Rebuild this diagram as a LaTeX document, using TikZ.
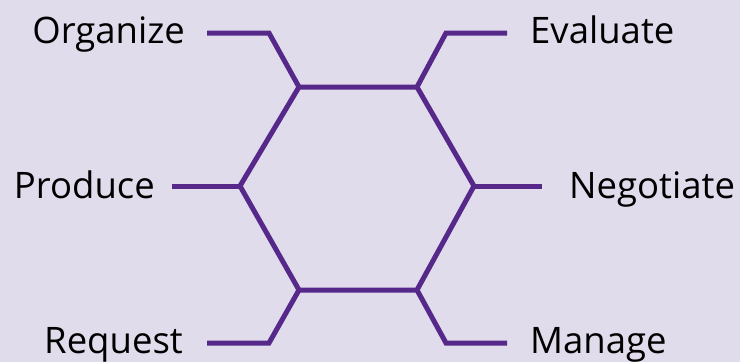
\documentclass[tikz,border=0pt]{standalone}
\usepackage{fontspec}
\setmainfont{Open Sans}
\definecolor{bg}{RGB}{224,220,236}
\definecolor{hexpurple}{RGB}{85,40,138}
\begin{document}
\begin{tikzpicture}[x=1pt,y=-1pt,
  edge/.style={draw=hexpurple,line width=5pt,line join=miter},
  lbl/.style={font=\fontsize{36.5}{40}\selectfont,text=black,inner sep=0pt}]
\fill[bg] (0,0) rectangle (740,362);
\useasboundingbox (0,0) rectangle (740,362);
% hexagon vertices
\coordinate (tl) at (299,87);
\coordinate (tr) at (417,87);
\coordinate (r) at (474,186);
\coordinate (br) at (417,290);
\coordinate (bl) at (299,290);
\coordinate (l) at (240,186);
% bends and ends
\coordinate (tlb) at (269,33); \coordinate (tle) at (207,33);
\coordinate (trb) at (446,33); \coordinate (tre) at (507,33);
\coordinate (le) at (172,186);
\coordinate (re) at (542,186);
\coordinate (blb) at (269,343); \coordinate (ble) at (207,343);
\coordinate (brb) at (446,343); \coordinate (bre) at (507,343);
\draw[edge] (tl) -- (tr) -- (r) -- (br) -- (bl) -- (l) -- cycle;
\draw[edge] (tl) -- (tlb) -- (tle);
\draw[edge] (tr) -- (trb) -- (tre);
\draw[edge] (l) -- (le);
\draw[edge] (r) -- (re);
\draw[edge] (bl) -- (blb) -- (ble);
\draw[edge] (br) -- (brb) -- (bre);
% labels
\node[lbl,anchor=base east] (organize) at (185,43) {Organize};
\node[lbl,anchor=base west] (evaluate) at (530,43) {Evaluate};
\node[lbl,anchor=base east] (produce) at (155,198) {Produce};
\node[lbl,anchor=base west] (negotiate) at (569,198) {Negotiate};
\node[lbl,anchor=base east] (request) at (183,353) {Request};
\node[lbl,anchor=base west] (manage) at (530,353) {Manage};
\end{tikzpicture}
\end{document}
